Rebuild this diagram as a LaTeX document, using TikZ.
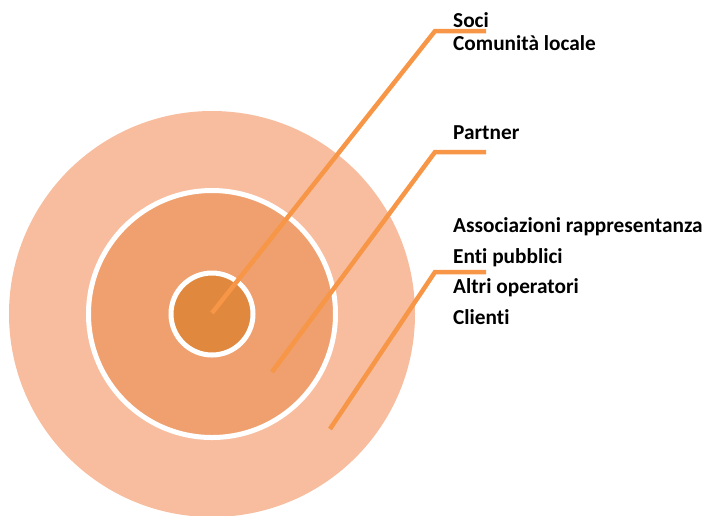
\documentclass[tikz,border=0pt]{standalone}
\usepackage{fontspec}
\setmainfont[RawFeature=-liga]{Carlito}
\definecolor{ringouter}{HTML}{F8BD9E}
\definecolor{ringmiddle}{HTML}{EFA06E}
\definecolor{ringcore}{HTML}{E0883E}
\definecolor{leadorange}{HTML}{F79646}

\begin{document}
\begin{tikzpicture}
      [x=1pt, y=-1pt,
      disc/.style={circle, inner sep=0pt, draw=white, line width=5pt},
      lead/.style={-, draw=leadorange, line width=4.5pt},
      tag/.style={anchor=base west, inner sep=0pt, font=\fontsize{21.3}{25}\selectfont\bfseries}]
      \useasboundingbox (0,0) rectangle (706,515);
      % rings
      \node (outer) at (212,314) [circle, inner sep=0pt, fill=ringouter, minimum size=406pt] {};
      \node (middle) at (212,314) [disc, fill=ringmiddle, minimum size=247pt] {};
      \node (core) at (212,314) [disc, fill=ringcore, minimum size=82pt] {};
      % leaders
      \coordinate (coreend) at (212,313);
      \coordinate (middleend) at (272,372);
      \coordinate (outerend) at (330,429);
      \coordinate (corebend) at (435,31);
      \coordinate (middlebend) at (435,152);
      \coordinate (outerbend) at (435,272);
      \coordinate (coretip) at (486,31);
      \coordinate (middletip) at (486,152);
      \coordinate (outertip) at (486,272);
      \draw[lead] (coreend) -- (corebend) -- (coretip);
      \draw[lead] (middleend) -- (middlebend) -- (middletip);
      \draw[lead] (outerend) -- (outerbend) -- (outertip);
      % texts
      \node (soci) at (453,27) [tag] {Soci};
      \node (comunita) at (453,50) [tag] {Comunità locale};
      \node (partner) at (453,139) [tag] {Partner};
      \node (associazioni) at (453,232) [tag] {Associazioni rappresentanza};
      \node (enti) at (453,263) [tag] {Enti pubblici};
      \node (altri) at (453,293) [tag] {Altri operatori};
      \node (clienti) at (453,324) [tag] {Clienti};
    \end{tikzpicture}
\end{document}
